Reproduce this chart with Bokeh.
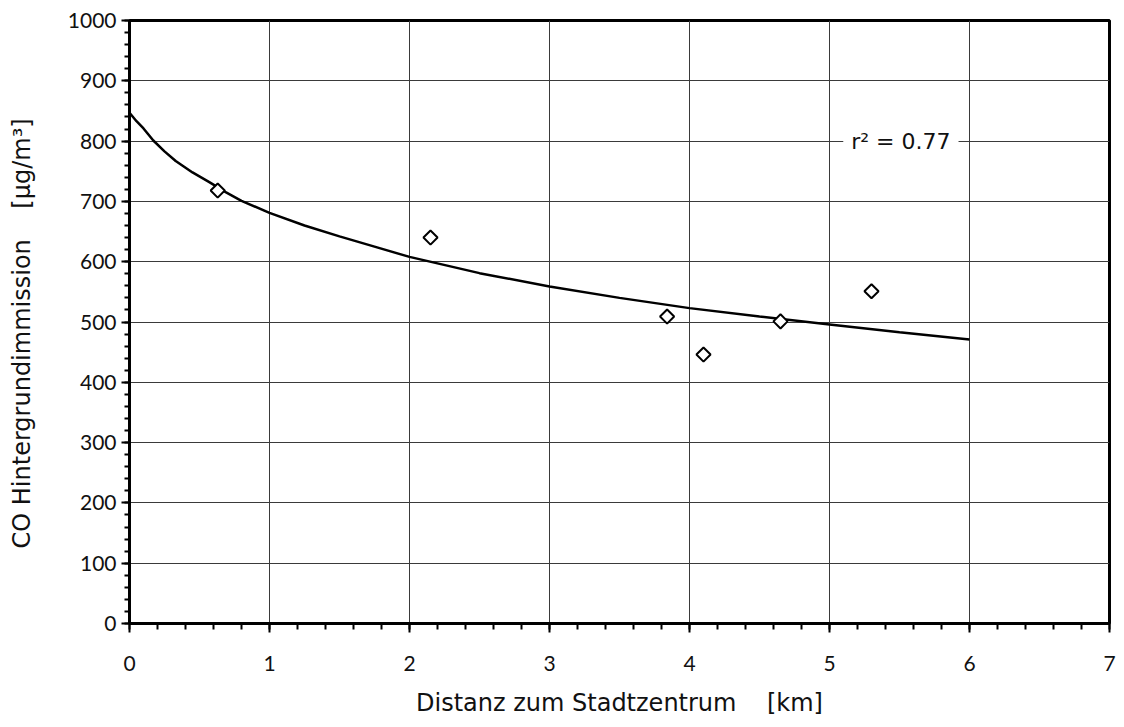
import math
from bokeh.plotting import figure
from bokeh.models import SingleIntervalTicker, Range1d, Label
from bokeh.embed import file_html
from bokeh.resources import INLINE

# measured points
dist_km = [0.63, 2.15, 3.84, 4.10, 4.65, 5.30]
co_bg = [718, 640, 509, 446, 501, 551]

# trend curve
curve_x = [0, 0.05, 0.1, 0.17, 0.25, 0.33, 0.45, 0.57, 0.69, 0.8, 1.0, 1.25, 1.5, 1.75, 2.0, 2.5, 3.0, 3.5, 4.0, 4.5, 5.0, 5.5, 6.0]
curve_y = [847, 833, 821, 801, 783, 767, 748, 732, 715, 701, 681, 660, 642, 625, 608, 581, 559, 540, 523, 509, 496, 483, 471]

x_ticks = [0, 1, 2, 3, 4, 5, 6, 7]
y_ticks = [0, 100, 200, 300, 400, 500, 600, 700, 800, 900, 1000]
r2_text = "r\u00b2 = 0.77"

TICK_FONT = "Lato"
TICK_FS = "21px"
LBL_FONT = "DejaVu Sans"
LBL_FS = "24px"
R2_FS = "22px"

NB = "\u00a0"

p = figure(width=1124, height=727, output_backend="svg", toolbar_location=None,
           x_range=Range1d(0, 7), y_range=Range1d(0, 1000),
           min_border_left=129, min_border_right=15, min_border_top=20, min_border_bottom=104)
p.background_fill_color = "white"
p.border_fill_color = "white"
p.outline_line_color = "black"
p.outline_line_width = 3

for ax, ticks in ((p.xaxis[0], x_ticks), (p.yaxis[0], y_ticks)):
    ax.ticker = SingleIntervalTicker(interval=ticks[1] - ticks[0], num_minor_ticks=5)
    ax.axis_line_width = 3
    ax.axis_line_color = "black"
    ax.major_tick_line_width = 2
    ax.minor_tick_line_width = 2
    ax.major_tick_in = 0
    ax.minor_tick_in = 0
    ax.major_label_text_font = TICK_FONT
    ax.major_label_text_font_size = TICK_FS
    ax.major_label_text_color = "#111111"
    ax.axis_label_text_font = LBL_FONT
    ax.axis_label_text_font_size = LBL_FS
    ax.axis_label_text_font_style = "normal"
    ax.axis_label_text_color = "#111111"

p.xaxis.major_tick_out = 9
p.xaxis.minor_tick_out = 6
p.yaxis.major_tick_out = 8
p.yaxis.minor_tick_out = 5
p.xaxis.major_label_standoff = 23
p.yaxis.major_label_standoff = 5
p.xaxis.axis_label = "Distanz zum Stadtzentrum" + NB * 4 + "[km]"
p.yaxis.axis_label = "CO Hintergrundimmission" + NB * 4 + "[\u00b5g/m\u00b3]" + NB * 3
p.xaxis.axis_label_standoff = 15
p.yaxis.axis_label_standoff = 29

p.xgrid.ticker = p.xaxis[0].ticker
p.ygrid.ticker = p.yaxis[0].ticker
for g in (p.xgrid[0], p.ygrid[0]):
    g.grid_line_color = "#3a3a3a"
    g.grid_line_width = 1
    g.grid_line_alpha = 1

p.line(curve_x, curve_y, line_color="black", line_width=2.5)
p.scatter(dist_km, co_bg, marker="square", angle=math.pi / 4, size=10,
          fill_color="white", line_color="black", line_width=2)

p.add_layout(Label(x=5.51, y=800, text=r2_text, text_align="center",
                   text_baseline="alphabetic", text_font=LBL_FONT, text_font_size=R2_FS,
                   text_color="#111111", background_fill_color="white",
                   padding=8))

open("out.html", "w").write(file_html(p, INLINE))
